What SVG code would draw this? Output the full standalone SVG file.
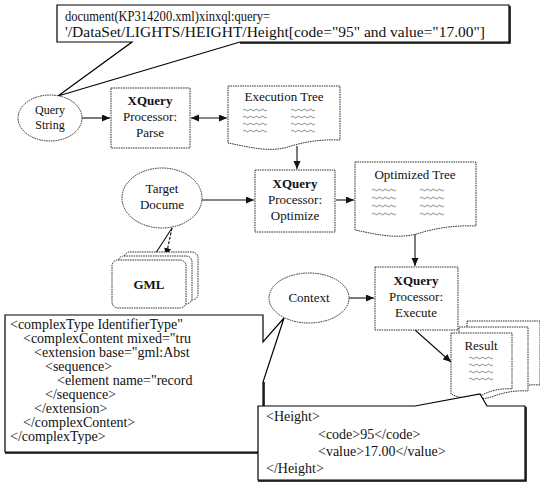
<svg xmlns="http://www.w3.org/2000/svg" width="540" height="485" viewBox="0 0 540 485" font-family="Liberation Serif, Times New Roman, serif">
<style>
text{fill:#111;font-size:13px}
.s{font-size:12px}
.m{font-size:14px}
.b{font-weight:bold}
.box{fill:#fff;stroke:#333;stroke-width:1;stroke-dasharray:1.6 0.8}
.call{fill:#fff;stroke:#000;stroke-width:1.2;stroke-linejoin:miter}
.sh{fill:none;stroke:#000;stroke-width:1.5}
.sq{fill:none;stroke:#555;stroke-width:0.7}
.con{fill:none;stroke:#111;stroke-width:1.1}
</style>
<defs>
<marker id="ah" markerUnits="userSpaceOnUse" markerWidth="9" markerHeight="8" refX="8" refY="3.5" orient="auto-start-reverse"><path d="M0,0 L8,3.5 L0,7 z" fill="#111"/></marker>
<path id="sq" d="M0,0 q1.5,-1.6 3,0 t3,0 t3,0 t3,0 t3,0 t3,0 t3,0 t3,0"/>
</defs>

<g id="query-callout">
<path class="call" d="M57,5 H509 V42 H240 L58,96 L132,42 H57 Z"/>
<path class="sh" d="M510,6 V43 H240"/>
<text class="m" x="65" y="21" textLength="205" lengthAdjust="spacingAndGlyphs">document(KP314200.xml)xinxql:query=</text>
<text class="m" x="65" y="37" textLength="420" lengthAdjust="spacingAndGlyphs">'/DataSet/LIGHTS/HEIGHT/Height[code="95" and value="17.00"]</text>
</g>

<g id="connectors">
<line class="con" x1="82" y1="118" x2="110" y2="118" marker-end="url(#ah)"/>
<line class="con" x1="191" y1="118" x2="227" y2="118" marker-start="url(#ah)" marker-end="url(#ah)"/>
<line class="con" x1="297" y1="146" x2="297" y2="169" marker-end="url(#ah)"/>
<line class="con" x1="202" y1="200" x2="254" y2="200" marker-end="url(#ah)"/>
<line class="con" x1="336" y1="200" x2="354" y2="200" marker-end="url(#ah)"/>
<line class="con" x1="415" y1="232" x2="415" y2="266" marker-end="url(#ah)"/>
<line class="con" x1="349" y1="298" x2="374" y2="298" marker-end="url(#ah)"/>
<line class="con" x1="172" y1="228" x2="150" y2="262" marker-end="url(#ah)"/>
<line class="con" x1="172" y1="228" x2="166" y2="256" marker-end="url(#ah)" stroke-dasharray="3 1.5"/>
<line class="con" x1="415" y1="330" x2="451" y2="362" marker-end="url(#ah)"/>
</g>

<g id="query-string">
<ellipse class="box" cx="50" cy="118" rx="32" ry="23"/>
<text class="s" x="50" y="114" text-anchor="middle">Query</text>
<text class="s" x="50" y="129" text-anchor="middle">String</text>
</g>

<g id="parse">
<rect class="box" x="111" y="88" width="79" height="60"/>
<text class="b" x="150" y="105" text-anchor="middle">XQuery</text>
<text x="150" y="121" text-anchor="middle">Processor:</text>
<text x="150" y="137" text-anchor="middle">Parse</text>
</g>

<g id="execution-tree">
<path class="box" d="M228,86 H340 V140 C318,139 300,143 288,147 C268,153 245,146 228,143 Z"/>
<text x="284" y="101" text-anchor="middle">Execution Tree</text>
<use href="#sq" class="sq" x="243" y="110"/><use href="#sq" class="sq" x="291" y="110"/>
<use href="#sq" class="sq" x="243" y="117"/><use href="#sq" class="sq" x="291" y="117"/>
<use href="#sq" class="sq" x="243" y="124"/><use href="#sq" class="sq" x="291" y="124"/>
<use href="#sq" class="sq" x="243" y="131"/><use href="#sq" class="sq" x="291" y="131"/>
</g>

<g id="optimize">
<rect class="box" x="255" y="170" width="80" height="62"/>
<text class="b" x="295" y="188" text-anchor="middle">XQuery</text>
<text x="295" y="204" text-anchor="middle">Processor:</text>
<text x="295" y="220" text-anchor="middle">Optimize</text>
</g>

<g id="target-document">
<ellipse class="box" cx="162" cy="198" rx="40" ry="30"/>
<text x="162" y="193" text-anchor="middle">Target</text>
<text x="162" y="209" text-anchor="middle">Docume</text>
</g>

<g id="optimized-tree">
<path class="box" d="M355,162 H476 V226 C452,225 433,229 420,233 C398,240 375,234 355,230 Z"/>
<text x="415" y="179" text-anchor="middle">Optimized Tree</text>
<use href="#sq" class="sq" x="372" y="190"/><use href="#sq" class="sq" x="420" y="190"/>
<use href="#sq" class="sq" x="372" y="198"/><use href="#sq" class="sq" x="420" y="198"/>
<use href="#sq" class="sq" x="372" y="206"/><use href="#sq" class="sq" x="420" y="206"/>
<use href="#sq" class="sq" x="372" y="214"/><use href="#sq" class="sq" x="420" y="214"/>
</g>

<g id="gml">
<rect class="box" x="124" y="252" width="74" height="48" rx="6"/>
<rect class="box" x="118" y="256" width="74" height="48" rx="6"/>
<rect class="box" x="112" y="260" width="74" height="48" rx="6"/>
<text class="b" x="149" y="289" text-anchor="middle">GML</text>
</g>

<g id="execute">
<rect class="box" x="375" y="267" width="83" height="63"/>
<text class="b" x="416" y="285" text-anchor="middle">XQuery</text>
<text x="416" y="301" text-anchor="middle">Processor:</text>
<text x="416" y="317" text-anchor="middle">Execute</text>
</g>

<g id="schema-callout">
<path class="call" d="M5,315 H263 V342 L284,318 L263,382 V452 H5 Z"/>
<path class="sh" d="M264,382 V453 H5"/>
<text class="m" x="10" y="329">&lt;complexType IdentifierType"</text>
<text class="m" x="23" y="343">&lt;complexContent mixed="tru</text>
<text class="m" x="34" y="357">&lt;extension base="gml:Abst</text>
<text class="m" x="45" y="371">&lt;sequence&gt;</text>
<text class="m" x="57" y="385">&lt;element name="record</text>
<text class="m" x="45" y="399">&lt;/sequence&gt;</text>
<text class="m" x="34" y="413">&lt;/extension&gt;</text>
<text class="m" x="23" y="427">&lt;/complexContent&gt;</text>
<text class="m" x="10" y="441">&lt;/complexType&gt;</text>
</g>

<g id="context">
<ellipse class="box" cx="309" cy="298" rx="40" ry="25"/>
<text x="309" y="302" text-anchor="middle">Context</text>
</g>

<g id="result">
<path class="box" d="M467,321 H540 V385 C526,384 515,387 506,390 C494,395 480,392 467,389 Z"/>
<path class="box" d="M459,327 H528 V391 C514,390 503,393 494,396 C482,401 470,398 459,395 Z"/>
<path class="box" d="M451,333 H512 V389 C500,388 490,391 482,395 C470,401 460,398 451,394 Z"/>
<text x="481" y="350" text-anchor="middle">Result</text>
<use href="#sq" class="sq" x="469" y="358"/>
<use href="#sq" class="sq" x="469" y="365"/>
<use href="#sq" class="sq" x="469" y="372"/>
<use href="#sq" class="sq" x="469" y="379"/>
</g>

<g id="height-callout">
<path class="call" d="M258,406 H415 L480,394 L487,406 H525 V480 H258 Z"/>
<path class="sh" d="M526,407 V481 H258"/>
<text class="m" x="266" y="421">&lt;Height&gt;</text>
<text class="m" x="318" y="439">&lt;code&gt;95&lt;/code&gt;</text>
<text class="m" x="318" y="456">&lt;value&gt;17.00&lt;/value&gt;</text>
<text class="m" x="266" y="473">&lt;/Height&gt;</text>
</g>
</svg>
